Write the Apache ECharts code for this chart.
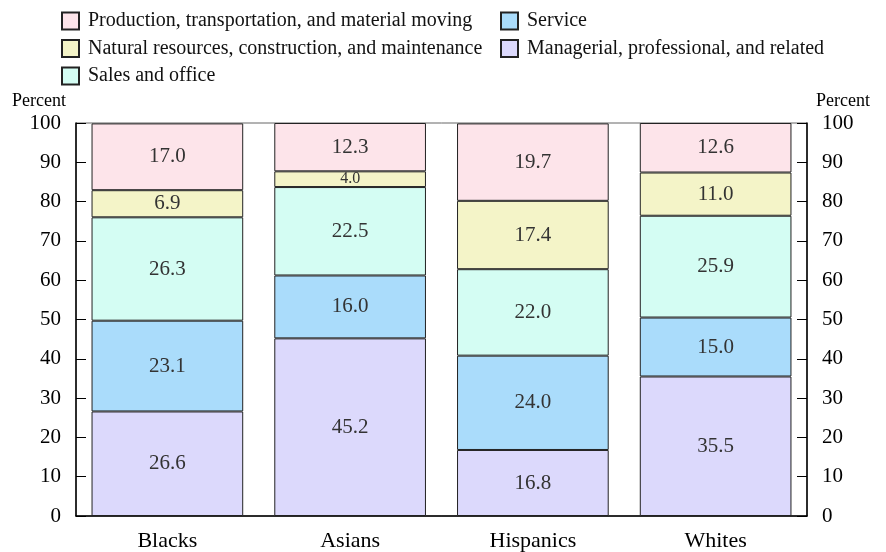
<!DOCTYPE html>
<html>
<head>
<meta charset="utf-8">
<script src="https://cdn.jsdelivr.net/npm/echarts@6/dist/echarts.min.js"></script>
<style>
  html, body { margin: 0; padding: 0; background: #fff; }
  #chart { width: 886px; height: 552px; }
</style>
</head>
<body>
<div id="chart"></div>
<script>
const groups = ["Blacks", "Asians", "Hispanics", "Whites"];

// stacked bottom to top
const managerial = [26.6, 45.2, 16.8, 35.5];
const service = [23.1, 16.0, 24.0, 15.0];
const salesOffice = [26.3, 22.5, 22.0, 25.9];
const naturalRes = [6.9, 4.0, 17.4, 11.0];
const production = [17.0, 12.3, 19.7, 12.6];

const seriesNames = [
  "Managerial, professional, and related",
  "Service",
  "Sales and office",
  "Natural resources, construction, and maintenance",
  "Production, transportation, and material moving",
];
const seriesValues = [managerial, service, salesOffice, naturalRes, production];
const colors = ["#dcd9fc", "#aadcfb", "#d4fdf3", "#f4f4c8", "#fde4ea"];

const chart = echarts.init(document.getElementById("chart"));

const serif = "Liberation Serif";

const series = seriesNames.map((name, i) => ({
  name: name,
  type: "bar",
  stack: "total",
  barCategoryGap: "17%",
  itemStyle: { color: colors[i], borderColor: "#222", borderWidth: 1 },
  label: {
    show: true,
    position: "inside",
    fontFamily: serif,
    fontSize: 21,
    color: "#333",
    formatter: (p) => p.value.toFixed(1),
  },
  data: seriesValues[i].map((v) =>
    v < 5 ? { value: v, label: { fontSize: 16 } } : v
  ),
}));

const legendCommon = {
  orient: "vertical",
  icon: "rect",
  padding: 0,
  itemWidth: 17,
  itemHeight: 17,
  itemGap: 7.5,
  textStyle: { fontFamily: serif, fontSize: 20, color: "#111", padding: [0, 0, 0, 4] },
};

const yAxisCommon = {
  type: "value",
  min: 0,
  max: 100,
  interval: 10,
  name: "Percent",
  nameGap: 13,
  axisLine: { show: true, lineStyle: { color: "#000", width: 1.5 } },
  axisTick: { show: true, inside: true, length: 10, lineStyle: { color: "#000" } },
  axisLabel: { fontFamily: serif, fontSize: 21, color: "#000", margin: 15 },
  splitLine: { show: false },
};

const option = {
  animation: false,
  legend: [
    Object.assign({}, legendCommon, {
      left: 61,
      top: 11,
      data: [seriesNames[4], seriesNames[3], seriesNames[2]],
    }),
    Object.assign({}, legendCommon, {
      left: 500,
      top: 11,
      data: [seriesNames[1], seriesNames[0]],
    }),
  ],
  grid: {
    left: 76,
    right: 79,
    top: 123,
    bottom: 36,
    show: true,
    borderColor: "#666",
    borderWidth: 1,
  },
  xAxis: {
    type: "category",
    data: groups,
    axisLine: { lineStyle: { color: "#000", width: 1.5 } },
    axisTick: { show: false },
    axisLabel: { fontFamily: serif, fontSize: 22, color: "#000", margin: 14 },
  },
  yAxis: [
    Object.assign({}, yAxisCommon, {
      position: "left",
      nameTextStyle: { fontFamily: serif, fontSize: 18, color: "#000", align: "right", padding: [0, 10, 0, 0] },
    }),
    Object.assign({}, yAxisCommon, {
      position: "right",
      nameTextStyle: { fontFamily: serif, fontSize: 18, color: "#000", align: "left", padding: [0, 0, 0, 9] },
    }),
  ],
  series: series,
};

chart.setOption(option);
</script>
</body>
</html>
